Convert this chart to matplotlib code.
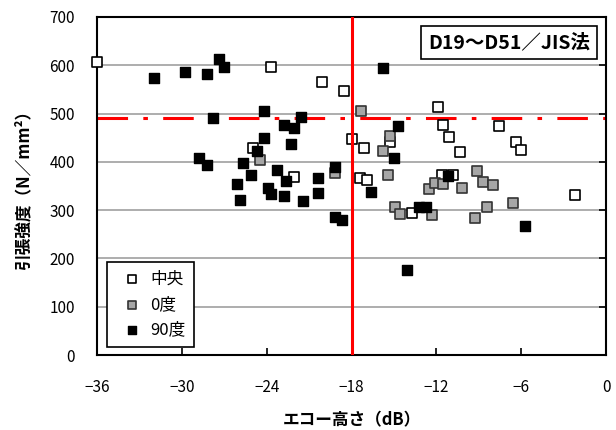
import numpy as np
import matplotlib.pyplot as plt

plt.rcParams['font.family'] = ['Noto Sans CJK JP', 'DejaVu Sans']
plt.rcParams['axes.unicode_minus'] = True

# 中央
center_x = [-36.0, -23.7, -20.1, -18.5, -18.0, -17.1, -15.3, -11.9, -11.5, -11.1, -10.3,
            -7.6, -6.4, -6.0, -2.2, -25.0, -22.1, -17.4, -16.9, -13.7, -11.6, -10.8]
center_y = [607, 596, 565, 547, 447, 428, 441, 513, 476, 451, 420,
            474, 441, 424, 331, 428, 369, 366, 362, 294, 373, 373]

# 0度
deg0_x = [-24.5, -19.2, -17.3, -15.3, -15.8, -15.4, -12.5, -12.1, -11.5, -10.2,
          -9.1, -8.7, -8.0, -6.6, -8.4, -9.3, -14.9, -14.6, -12.3]
deg0_y = [404, 377, 505, 453, 422, 373, 343, 356, 354, 346,
          382, 358, 352, 315, 306, 284, 306, 292, 290]

# 90度
deg90_x = [-32.0, -29.8, -28.2, -27.4, -27.0, -27.8, -28.8, -28.2, -24.2, -21.6,
           -22.8, -22.1, -24.2, -22.3, -24.7, -25.7, -25.1, -26.1, -25.9, -23.3,
           -22.6, -23.9, -23.7, -22.8, -21.4, -20.4, -20.4, -19.2, -19.2, -18.7,
           -16.6, -15.8, -14.7, -15.0, -11.2, -13.2, -12.7, -14.1, -5.7]
deg90_y = [573, 586, 582, 613, 597, 491, 408, 393, 505, 493,
           476, 470, 449, 436, 422, 398, 373, 355, 320, 383,
           360, 345, 333, 329, 319, 366, 335, 389, 286, 280,
           338, 594, 474, 408, 371, 306, 306, 176, 267]

x_limit = -18      # 縦基準線
y_limit = 490      # 横基準線

fig = plt.figure(figsize=(6.16, 4.3), dpi=100)
ax = fig.add_axes([0.1575, 0.1744, 0.8263, 0.7861])

ax.scatter(center_x, center_y, s=55, marker='s', facecolor='white',
           edgecolor='black', linewidth=1.2, label='中央', zorder=3, clip_on=False)
ax.scatter(deg0_x, deg0_y, s=55, marker='s', facecolor='#a6a6a6',
           edgecolor='#333333', linewidth=1.2, label='0度', zorder=4)
ax.scatter(deg90_x, deg90_y, s=55, marker='s', facecolor='black',
           edgecolor='black', linewidth=1.0, label='90度', zorder=5)

ax.axvline(x_limit, color='#ff0000', linewidth=2.2, zorder=6)
ax.axhline(y_limit, color='#ff0000', linewidth=2.2, dashes=(10, 5, 1.5, 5), zorder=2)

ax.set_xlim(-36, 0)
ax.set_ylim(0, 700)
ax.set_xticks(np.arange(-36, 1, 6))
ax.set_yticks(np.arange(0, 701, 100))
ax.yaxis.grid(True, color='#a0a0a0', linewidth=1.2)
ax.set_axisbelow(True)
ax.tick_params(axis='both', direction='in', labelsize=11, length=5, width=1.2,
               right=True)
ax.tick_params(axis='x', pad=17)
ax.tick_params(axis='y', left=False, pad=16)
for s in ax.spines.values():
    s.set_linewidth(1.5)

ax.set_xlabel('エコー高さ（dB）', fontsize=12, fontweight='bold', labelpad=11)
ax.set_ylabel('引張強度（N／mm²）', fontsize=12, fontweight='bold', labelpad=12)

ax.text(0.969, 0.953, 'D19～D51／JIS法', transform=ax.transAxes, ha='right', va='top',
        fontsize=14, fontweight='bold', zorder=7,
        bbox=dict(boxstyle='square,pad=0.35', facecolor='white', edgecolor='black', linewidth=1.2))

leg = ax.legend(loc='lower left', bbox_to_anchor=(0.02, 0.025), fontsize=12,
                frameon=True, fancybox=False, edgecolor='black', framealpha=1,
                handletextpad=0.1, borderpad=0.5, labelspacing=0.5,
                markerscale=0.85, borderaxespad=0)
leg.get_frame().set_linewidth(1.2)
leg.set_zorder(8)

fig.savefig('out.png', dpi=100)
